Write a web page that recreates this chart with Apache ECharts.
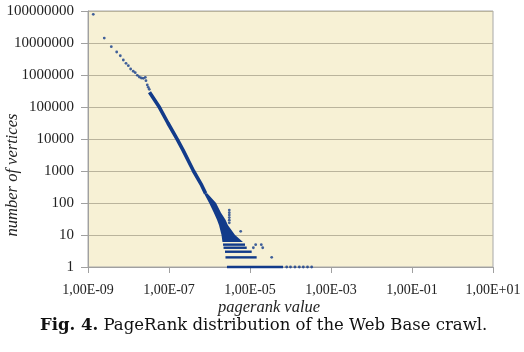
<!DOCTYPE html>
<html>
<head>
<meta charset="utf-8">
<script src="https://cdn.jsdelivr.net/npm/echarts@6/dist/echarts.min.js"></script>
<style>
  html, body { margin: 0; padding: 0; background: #fff; }
  #chart { width: 524px; height: 352px; }
</style>
</head>
<body>
<div id="chart"></div>
<script>
// sparse dots at the low-pagerank end (pagerank, vertices)
const headX = [1.35e-9, 2.52e-9, 3.76e-9, 5.11e-9, 6.28e-9, 7.45e-9, 8.68e-9, 9.9e-9, 1.13e-8, 1.31e-8, 1.47e-8,
  1.65e-8, 1.85e-8, 2.07e-8, 2.32e-8, 2.6e-8, 2.7e-8, 2.91e-8, 3.08e-8, 3.26e-8];
const headY = [7.9e7, 1.43e7, 7.66e6, 5.23e6, 4.0e6, 2.94e6, 2.32e6, 1.95e6, 1.54e6, 1.31e6, 1.18e6,
  9.8e5, 8.66e5, 8.06e5, 7.89e5, 8.48e5, 6.63e5, 4.87e5, 4.13e5, 3.57e5];

// dense part, drawn as one thick trace
const mainX = [3.3e-8, 4.5e-8, 5.8e-8, 9.4e-8, 1.6e-7, 2.22e-7, 4.03e-7, 6.4e-7, 8.0e-7];
const mainY = [2.9e5, 1.6e5, 9.8e4, 3.16e4, 9.8e3, 4.5e3, 1000, 360, 200];

// widening band for small counts: left / right pagerank edge per count
const bandCount = [200, 100, 50, 30, 20, 10, 6];
const bandLeft = [7.3e-7, 9.8e-7, 1.28e-6, 1.53e-6, 1.72e-6, 1.98e-6, 2.09e-6];
const bandRight = [8.8e-7, 1.45e-6, 1.92e-6, 2.48e-6, 2.86e-6, 4.27e-6, 6.71e-6];

// integer-count rows at the bottom
const rowCount = [1, 2, 3, 4, 5];
const rowFrom = [2.7e-6, 2.48e-6, 2.41e-6, 2.22e-6, 2.16e-6];
const rowTo = [6.53e-5, 1.46e-5, 1.1e-5, 8.3e-6, 7.53e-6];

// stray points
const strayX = [3.08e-6, 3.08e-6, 3.08e-6, 3.08e-6, 3.08e-6, 3.08e-6, 5.89e-6, 1.38e-5, 1.21e-5, 2.06e-5, 1.9e-5, 3.43e-5,
  8.05e-5, 1.0e-4, 1.29e-4, 1.65e-4, 2.07e-4, 2.63e-4, 3.33e-4];
const strayY = [60, 50, 42, 35, 29, 24, 13, 5, 4, 4, 5, 2,
  1, 1, 1, 1, 1, 1, 1];

const xTicks = [1e-9, 1e-7, 1e-5, 1e-3, 1e-1, 10];

const navy = '#123b8a';
const serif = '"Liberation Serif", "Times New Roman", serif';

const chart = echarts.init(document.getElementById('chart'));

function sciLabel(v) {
  const e = Math.round(Math.log10(v));
  const a = Math.abs(e);
  return '1,00E' + (e < 0 ? '-' : '+') + (a < 10 ? '0' : '') + a;
}

chart.setOption({
  animation: false,
  backgroundColor: '#fff',
  grid: {
    left: 88, top: 11, right: 31, bottom: 85,
    show: true, backgroundColor: '#f7f1d5', borderColor: '#a8a8a8', borderWidth: 1
  },
  xAxis: {
    type: 'log', logBase: 10, min: 1e-9, max: 10,
    axisLine: { lineStyle: { color: '#a0a0a0' } },
    axisTick: { show: true, length: 6, customValues: xTicks, lineStyle: { color: '#a0a0a0' } },
    axisLabel: {
      customValues: xTicks, formatter: sciLabel, margin: 16,
      fontFamily: serif, fontSize: 14, color: '#222'
    },
    splitLine: { show: false },
    minorTick: { show: false }
  },
  yAxis: {
    type: 'log', logBase: 10, min: 1, max: 1e8,
    axisLine: { show: true, lineStyle: { color: '#a0a0a0' } },
    axisTick: { show: true, length: 7, lineStyle: { color: '#a0a0a0' } },
    axisLabel: {
      fontFamily: serif, fontSize: 15, color: '#222', margin: 14,
      formatter: v => String(Math.round(v))
    },
    splitLine: { show: true, lineStyle: { color: '#bab49c', width: 1 } }
  },
  graphic: [
    {
      type: 'text', x: 13, y: 175, rotation: Math.PI / 2,
      style: {
        text: 'number of vertices', fontFamily: serif, fontStyle: 'italic', fontSize: 16.5,
        fill: '#222', align: 'center', verticalAlign: 'middle'
      }
    },
    {
      type: 'text', x: 269, y: 308,
      style: {
        text: 'pagerank value', fontFamily: serif, fontStyle: 'italic', fontSize: 16.5,
        fill: '#222', align: 'center', verticalAlign: 'middle'
      }
    },
    {
      type: 'text', x: 40, y: 326,
      style: {
        text: '{b|Fig. 4.} PageRank distribution of the Web Base crawl.',
        fontFamily: '"DejaVu Serif", serif', fontSize: 16.5, fill: '#111',
        align: 'left', verticalAlign: 'middle',
        rich: { b: { fontFamily: '"DejaVu Serif", serif', fontSize: 16.5, fontWeight: 'bold', fill: '#111' } }
      }
    }
  ],
  series: [
    {
      type: 'custom',
      name: 'band',
      data: bandCount.map((c, i) => [bandLeft[i], bandRight[i], c]),
      encode: { x: [0, 1], y: 2 },
      renderItem: (params, api) => {
        if (params.dataIndex !== 0) return null;
        const pts = [];
        for (let i = 0; i < bandCount.length; i++) pts.push(api.coord([bandLeft[i], bandCount[i]]));
        for (let i = bandCount.length - 1; i >= 0; i--) pts.push(api.coord([bandRight[i], bandCount[i]]));
        return { type: 'polygon', shape: { points: pts }, style: { fill: navy } };
      }
    },
    {
      type: 'custom',
      name: 'rows',
      data: rowCount.map((c, i) => [rowFrom[i], rowTo[i], c]),
      encode: { x: [0, 1], y: 2 },
      renderItem: (params, api) => {
        const a = api.coord([api.value(0), api.value(2)]);
        const b = api.coord([api.value(1), api.value(2)]);
        return {
          type: 'line',
          shape: { x1: a[0], y1: a[1], x2: b[0], y2: b[1] },
          style: { stroke: navy, lineWidth: 2.4 }
        };
      }
    },
    {
      type: 'line',
      data: mainX.map((x, i) => [x, mainY[i]]),
      showSymbol: false,
      lineStyle: { color: navy, width: 3.6 }
    },
    {
      type: 'scatter',
      data: headX.map((x, i) => [x, headY[i]]),
      symbolSize: 2.8,
      itemStyle: { color: navy }
    },
    {
      type: 'scatter',
      data: strayX.map((x, i) => [x, strayY[i]]),
      symbolSize: 2.8,
      itemStyle: { color: navy }
    }
  ]
});
</script>
</body>
</html>
